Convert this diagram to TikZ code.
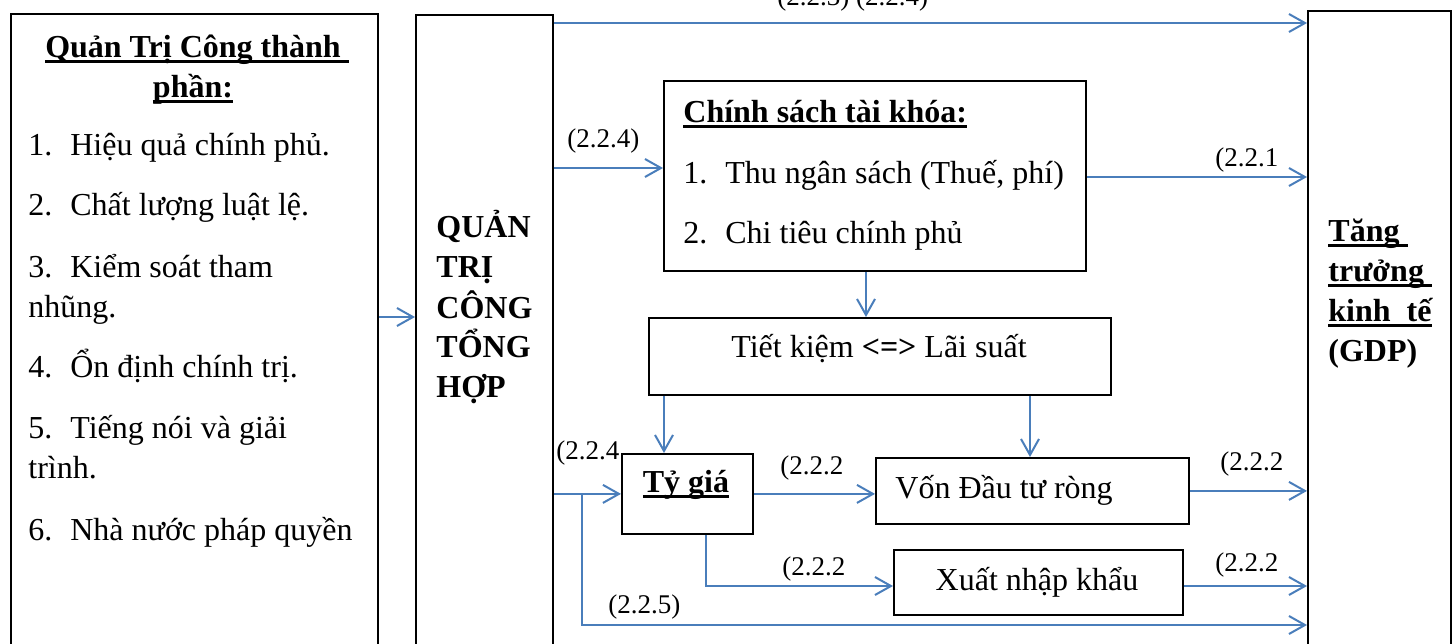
\documentclass[tikz,border=0pt]{standalone}
\usepackage{fontspec}
\setmainfont{Liberation Serif}
\usetikzlibrary{arrows.meta}
\definecolor{arrblue}{RGB}{74,126,187}
\newsavebox\ulbox
\newcommand\ulin[1]{\sbox\ulbox{#1}\rlap{\rule[-2.8pt]{\wd\ulbox}{1.1pt}}\usebox\ulbox}
\newcommand\num[1]{\makebox[21pt][l]{#1}}
\tikzstyle{box}=[draw,line width=.9pt,inner sep=0pt,anchor=north west]
\tikzstyle{txt}=[inner sep=0pt,anchor=base west,font=\fontsize{16pt}{20pt}\selectfont]
\tikzstyle{ctxt}=[txt,anchor=base]
\tikzstyle{lab}=[inner sep=0pt,anchor=base west,font=\fontsize{13.5pt}{16pt}\selectfont]
\tikzstyle{arr}=[draw=arrblue,line width=1pt,-{Straight Barb[length=8pt,width=9pt]}]
\begin{document}
\begin{tikzpicture}[x=0.5pt,y=-0.5pt]
	\clip (0,0) rectangle (1454,643);
	% boxes
	\node[box,minimum width=183.5pt,minimum height=343.5pt] (qtcp) at (10,13) {};
	\node[box,minimum width=68.5pt,minimum height=343pt] (qtct) at (415,14) {};
	\node[box,minimum width=71.5pt,minimum height=345pt] (gdp) at (1307,10) {};
	\node[box,minimum width=211pt,minimum height=95pt] (cs) at (663,80) {};
	\node[box,minimum width=231pt,minimum height=38.5pt] (tk) at (648,317) {};
	\node[box,minimum width=65.5pt,minimum height=40pt] (tg) at (621,453) {};
	\node[box,minimum width=156.5pt,minimum height=33pt] (von) at (875,457) {};
	\node[box,minimum width=144.5pt,minimum height=32.5pt] (xnk) at (893,549) {};
	% left box
	\node[ctxt] (qtcp-t1) at (197,57) {\bfseries\ulin{Quản Trị Công thành~}};
	\node[ctxt] (qtcp-t2) at (193,97) {\bfseries\ulin{phần:}};
	\foreach \y/\t [count=\i] in {155/{\num{1.}Hiệu quả chính phủ.}, 215/{\num{2.}Chất lượng luật lệ.},
	    277/{\num{3.}Kiểm soát tham}, 317/nhũng., 377/{\num{4.}Ổn định chính trị.},
	    438/{\num{5.}Tiếng nói và giải}, 478/trình., 540/{\num{6.}Nhà nước pháp quyền}}
	  \node[txt] (qtcp-\i) at (28,\y) {\t};
	% middle column
	\foreach \y/\t [count=\i] in {237/QUẢN, 277/TRỊ, 318/CÔNG, 357/TỔNG, 397/HỢP}
	  \node[txt] (qtct-\i) at (436,\y) {\bfseries\t};
	% right box
	\node[txt] (gdp-1) at (1328,241) {\bfseries\ulin{Tăng~}};
	\node[txt] (gdp-2) at (1328,281) {\bfseries\ulin{trưởng~}};
	\node[txt] (gdp-3) at (1328,321) {\bfseries\ulin{kinh~~tế}};
	\node[txt] (gdp-4) at (1328,361) {\bfseries(GDP)};
	% inner boxes
	\node[txt] (cs-0) at (683,122) {\bfseries\ulin{Chính sách tài khóa:}};
	\node[txt] (cs-1) at (683,183) {\num{1.}Thu ngân sách (Thuế, phí)};
	\node[txt] (cs-2) at (683,243) {\num{2.}Chi tiêu chính phủ};
	\node[ctxt] (tk-t) at (879,357) {Tiết kiệm \textbf{<=>} Lãi suất};
	\node[ctxt] (tg-t) at (686,492) {\bfseries\ulin{Tỷ giá}};
	\node[txt] (von-t) at (895,498) {Vốn Đầu tư ròng};
	\node[ctxt] (xnk-t) at (1037,590) {Xuất nhập khẩu};
	% labels
	\node[lab] (l-top) at (777,5) {(2.2.3) (2.2.4)};
	\node[lab] (l-cs) at (567,147) {(2.2.4)};
	\node[lab] (l-gdp1) at (1215,166) {(2.2.1};
	\node[lab] (l-tg) at (556,459) {(2.2.4};
	\node[lab] (l-von) at (780,474) {(2.2.2};
	\node[lab] (l-xnk) at (782,575) {(2.2.2};
	\node[lab] (l-br) at (608,613) {(2.2.5)};
	\node[lab] (l-gdp2) at (1220,470) {(2.2.2};
	\node[lab] (l-gdp3) at (1215,571) {(2.2.2};
	% arrows
	\coordinate (br) at (582,493);
	\draw[arr] (qtct.east |- 0,23) -- (gdp.west |- 0,23);
	\draw[arr] (qtct.east |- 0,168) -- (cs.west |- 0,168);
	\draw[arr] (cs.east |- 0,177) -- (gdp.west |- 0,177);
	\draw[arr] (qtcp.east |- 0,317) -- (qtct.west |- 0,317);
	\draw[arr] (cs.south -| 866,0) -- (tk.north -| 866,0);
	\draw[arr] (tk.south -| 664,0) -- (tg.north -| 664,0);
	\draw[arr] (tk.south -| 1030,0) -- (von.north -| 1030,0);
	\draw[arr] (qtct.east |- tg.west) -- (tg.west);
	\draw[arr] (tg.east) -- (von.west |- tg.east);
	\draw[arr] (tg.south -| 706,0) |- (xnk.west |- 0,586);
	\draw[arr] (von.east) -- (gdp.west |- von.east);
	\draw[arr] (xnk.east |- 0,586) -- (gdp.west |- 0,586);
	\draw[arr] (br) |- (gdp.west |- 0,625);
\end{tikzpicture}
\end{document}
